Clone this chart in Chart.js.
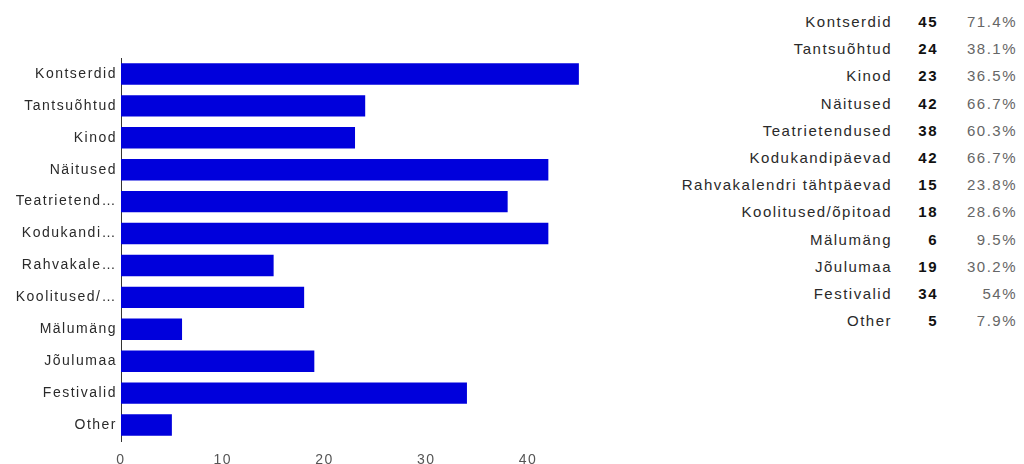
<!DOCTYPE html>
<html>
<head>
<meta charset="utf-8" />
<title>Üritused</title>
<style>
  body { margin: 0; background: #fff; font-family: "Liberation Sans", Arial, sans-serif; }
  #chart-holder { position: absolute; left: 0; top: 0; width: 600px; height: 464px; }
  #summary { position: absolute; left: 640px; top: 8px; border-collapse: collapse; font-size: 15px; letter-spacing: 1.5px; }
  #summary td { padding: 0; height: 27.2px; text-align: right; white-space: nowrap; }
  #summary td.lbl { color: #2a2a2a; width: 252px; }
  #summary td.cnt { color: #111; font-weight: bold; width: 46px; }
  #summary td.pct { color: #666; width: 79px; }
</style>
</head>
<body>
<div id="chart-holder"><canvas id="chart-area"></canvas></div>
<table id="summary"></table>

<script src="https://cdn.jsdelivr.net/npm/chart.js@4/dist/chart.umd.min.js"></script>
<script>
    var categories = ["Kontserdid", "Tantsuõhtud", "Kinod", "Näitused", "Teatrietendused",
        "Kodukandipäevad", "Rahvakalendri tähtpäevad", "Koolitused/õpitoad", "Mälumäng",
        "Jõulumaa", "Festivalid", "Other"];
    var counts = [45, 24, 23, 42, 38, 42, 15, 18, 6, 19, 34, 5];
    var percents = ["71.4%", "38.1%", "36.5%", "66.7%", "60.3%", "66.7%", "23.8%", "28.6%",
        "9.5%", "30.2%", "54%", "7.9%"];
    var shortLabels = ["Kontserdid", "Tantsuõhtud", "Kinod", "Näitused", "Teatrietend…",
        "Kodukandi…", "Rahvakale…", "Koolitused/…", "Mälumäng", "Jõulumaa", "Festivalid", "Other"];
    var xTicks = [0, 10, 20, 30, 40];

    // right side table
    var table = document.getElementById('summary');
    for (var i = 0; i < categories.length; i++) {
        var tr = document.createElement('tr');
        tr.innerHTML = '<td class="lbl"></td><td class="cnt"></td><td class="pct"></td>';
        tr.children[0].textContent = categories[i];
        tr.children[1].textContent = counts[i];
        tr.children[2].textContent = percents[i];
        table.appendChild(tr);
    }

    // the reference text is drawn wide, so space the letters out a bit
    var wideText = {
        id: 'wideText',
        beforeDraw: function(chart) { chart.ctx.letterSpacing = '1.5px'; }
    };

    var ctx = document.getElementById('chart-area').getContext('2d');
    var myBar = new Chart(ctx, {
        type: 'bar',
        data: {
            labels: categories,
            datasets: [{
                data: counts,
                backgroundColor: '#0000dc',
                borderWidth: 0,
                categoryPercentage: 1,
                barPercentage: 0.67
            }]
        },
        options: {
            indexAxis: 'y',
            responsive: true,
            maintainAspectRatio: false,
            animation: false,
            layout: { padding: { left: 0, right: 14, top: 58, bottom: 0 } },
            plugins: { legend: { display: false }, tooltip: { enabled: false } },
            scales: {
                x: {
                    min: 0,
                    max: 45.7,
                    grid: { display: false, drawTicks: false },
                    border: { display: false },
                    afterBuildTicks: function(axis) {
                        axis.ticks = xTicks.map(function(v) { return { value: v }; });
                    },
                    afterFit: function(axis) { axis.height = 23; },
                    ticks: {
                        padding: 11,
                        color: '#555',
                        font: { family: '"Liberation Sans", Arial, sans-serif', size: 14 }
                    }
                },
                y: {
                    grid: { display: false, drawTicks: false },
                    border: { display: true, color: '#333', width: 1 },
                    afterFit: function(axis) { axis.width = 121; },
                    ticks: {
                        padding: 4,
                        color: '#2a2a2a',
                        font: { family: '"Liberation Sans", Arial, sans-serif', size: 14 },
                        callback: function(value, index) { return shortLabels[index]; }
                    }
                }
            }
        },
        plugins: [wideText]
    });
</script>
</body>
</html>
